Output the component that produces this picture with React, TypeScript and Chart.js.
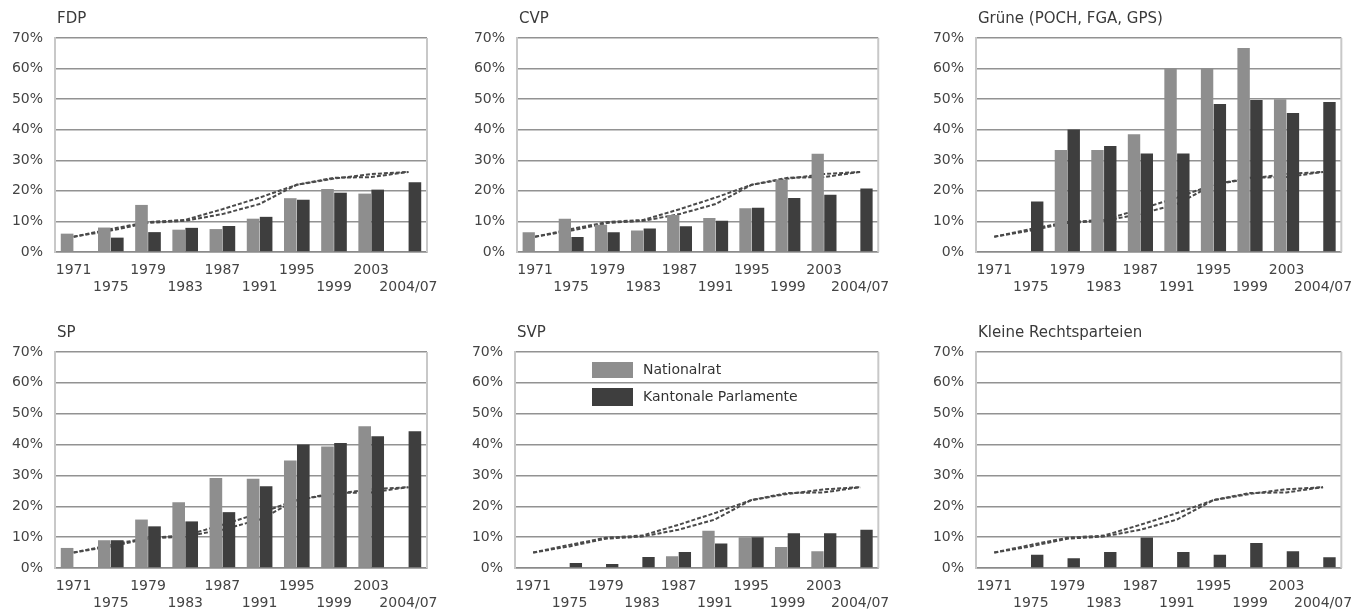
import React, { useEffect, useRef } from "react";
import { Chart, registerables } from "chart.js";

Chart.register(...registerables);

const categories = ["1971", "1975", "1979", "1983", "1987", "1991", "1995", "1999", "2003", "2004/07"];
const yTickValues = [0, 10, 20, 30, 40, 50, 60, 70];
const seriesNames = ["Nationalrat", "Kantonale Parlamente"];

const fdpNR = [6.0, 8.0, 15.4, 7.3, 7.5, 10.9, 17.6, 20.6, 19.1, null];
const fdpKP = [null, 4.7, 6.5, 7.9, 8.5, 11.5, 17.1, 19.4, 20.4, 22.8];
const cvpNR = [6.5, 10.9, 8.9, 7.0, 12.1, 11.1, 14.3, 23.6, 32.1, null];
const cvpKP = [null, 4.9, 6.5, 7.7, 8.4, 10.2, 14.5, 17.7, 18.7, 20.8];
const grueneNR = [null, null, 33.4, 33.4, 38.5, 60.2, 60.2, 66.7, 50.0, null];
const grueneKP = [null, 16.5, 40.1, 34.7, 32.2, 32.2, 48.4, 49.7, 45.5, 49.1];
const spNR = [6.5, 9.0, 15.7, 21.3, 29.2, 28.9, 34.8, 39.4, 45.9, null];
const spKP = [null, 9.0, 13.5, 15.1, 18.1, 26.5, 40.0, 40.5, 42.7, 44.3];
const svpNR = [null, null, null, null, 3.8, 12.1, 10.0, 6.8, 5.4, null];
const svpKP = [null, 1.6, 1.3, 3.6, 5.2, 7.9, 10.0, 11.3, 11.3, 12.4];
const krNR = [null, null, null, null, null, null, null, null, null, null];
const krKP = [null, 4.3, 3.2, 5.2, 9.9, 5.2, 4.3, 8.1, 5.4, 3.5];

// overall share of women (dashed reference lines, same in every panel)
const totalLineA = [5.0, 7.5, 9.8, 10.5, 14.0, 17.8, 22.0, 24.0, 25.5, 26.2];
const totalLineB = [5.0, 7.0, 9.5, 10.2, 12.4, 15.7, 22.0, 24.3, 24.5, 26.2];

const titles = ["FDP", "CVP", "Grüne (POCH, FGA, GPS)", "SP", "SVP", "Kleine Rechtsparteien"];
const nrData = [fdpNR, cvpNR, grueneNR, spNR, svpNR, krNR];
const kpData = [fdpKP, cvpKP, grueneKP, spKP, svpKP, krKP];

const NR_COLOR = "#8e8e8e";
const KP_COLOR = "#3e3e3e";
const FONT = "'DejaVu Sans', sans-serif";

type Layout = { left: number; top: number; width: number; height: number; padL: number; padR: number; padT: number; xH: number };

const layouts: Layout[] = [
  { left: 0, top: 0, width: 450, height: 300, padL: 5, padR: 23, padT: 38, xH: 48 },
  { left: 450, top: 0, width: 450, height: 300, padL: 17, padR: 15, padT: 38, xH: 48 },
  { left: 900, top: 0, width: 463, height: 300, padL: 26, padR: 17, padT: 38, xH: 48 },
  { left: 0, top: 300, width: 450, height: 312, padL: 5, padR: 23, padT: 52, xH: 44 },
  { left: 450, top: 300, width: 450, height: 312, padL: 15, padR: 15, padT: 52, xH: 44 },
  { left: 900, top: 300, width: 463, height: 312, padL: 26, padR: 17, padT: 52, xH: 44 },
];

function Panel({ index }: { index: number }) {
  const ref = useRef<HTMLCanvasElement | null>(null);
  const lay = layouts[index];
  useEffect(() => {
    if (!ref.current) return;
    const showLegend = index === 4;
    const decor = {
      id: "decor" + index,
      afterDraw(chart: any) {
        const { ctx, chartArea } = chart;
        ctx.save();
        // right border
        ctx.strokeStyle = "#c8c8c8";
        ctx.lineWidth = 2;
        ctx.beginPath();
        ctx.moveTo(chartArea.right, chartArea.top);
        ctx.lineTo(chartArea.right, chartArea.bottom);
        ctx.stroke();
        // title
        ctx.fillStyle = "#3a3a3a";
        ctx.font = "15px " + FONT;
        ctx.textAlign = "left";
        ctx.textBaseline = "middle";
        ctx.fillText(titles[index], chartArea.left + 2, chartArea.top - 19);
        if (showLegend) {
          const bx = chartArea.left + 77;
          ctx.fillStyle = NR_COLOR;
          ctx.fillRect(bx, chartArea.top + 10, 41, 16);
          ctx.fillStyle = KP_COLOR;
          ctx.fillRect(bx, chartArea.top + 36, 41, 18);
          ctx.fillStyle = "#333";
          ctx.font = "14px " + FONT;
          ctx.fillText(seriesNames[0], chartArea.left + 128, chartArea.top + 18);
          ctx.fillText(seriesNames[1], chartArea.left + 128, chartArea.top + 45);
        }
        ctx.restore();
      },
    };
    const lineStyle = {
      borderColor: "#4a4a4a",
      borderWidth: 2,
      borderDash: [4, 2],
      pointRadius: 0,
      fill: false,
      tension: 0,
      order: 2,
    };
    const chart = new Chart(ref.current, {
      type: "bar",
      data: {
        labels: categories,
        datasets: [
          {
            type: "bar",
            label: seriesNames[0],
            data: nrData[index] as any,
            backgroundColor: NR_COLOR,
            categoryPercentage: 0.7,
            barPercentage: 0.97,
            order: 1,
          },
          {
            type: "bar",
            label: seriesNames[1],
            data: kpData[index] as any,
            backgroundColor: KP_COLOR,
            categoryPercentage: 0.7,
            barPercentage: 0.97,
            order: 1,
          },
          { type: "line", label: "Total A", data: totalLineA, ...lineStyle } as any,
          { type: "line", label: "Total B", data: totalLineB, ...lineStyle } as any,
        ],
      },
      options: {
        responsive: false,
        animation: false,
        devicePixelRatio: 1,
        layout: { padding: { left: lay.padL, right: lay.padR, top: lay.padT, bottom: 0 } },
        plugins: { legend: { display: false }, tooltip: { enabled: false }, title: { display: false } },
        scales: {
          x: {
            offset: true,
            grid: { display: false, drawTicks: false },
            border: { display: true, color: "#8a8a8a", width: 1.5 },
            ticks: {
              autoSkip: false,
              maxRotation: 0,
              padding: 10,
              color: "#444",
              font: { family: FONT, size: 14 },
              callback: (_v: any, i: number) => (i % 2 === 0 ? [categories[i], ""] : ["", categories[i]]),
            },
            afterFit: (s: any) => {
              s.height = lay.xH;
            },
          },
          y: {
            min: 0,
            max: 70,
            afterBuildTicks: (s: any) => {
              s.ticks = yTickValues.map((v) => ({ value: v }));
            },
            grid: { color: "#929292", lineWidth: 1.5, drawTicks: false },
            border: { display: true, color: "#c8c8c8", width: 2 },
            ticks: {
              padding: 12,
              color: "#444",
              font: { family: FONT, size: 14 },
              callback: (v: any) => v + "%",
            },
            afterFit: (s: any) => {
              s.width = 50;
            },
          },
        },
      },
      plugins: [decor],
    } as any);
    return () => chart.destroy();
  }, [index]);
  return (
    <canvas
      ref={ref}
      width={lay.width}
      height={lay.height}
      style={{ position: "absolute", left: lay.left, top: lay.top, width: lay.width, height: lay.height }}
    />
  );
}

export default function App() {
  return (
    <div style={{ position: "absolute", left: 0, top: 0, width: 1363, height: 612, background: "#fff" }}>
      {titles.map((_, i) => (
        <Panel key={i} index={i} />
      ))}
    </div>
  );
}
